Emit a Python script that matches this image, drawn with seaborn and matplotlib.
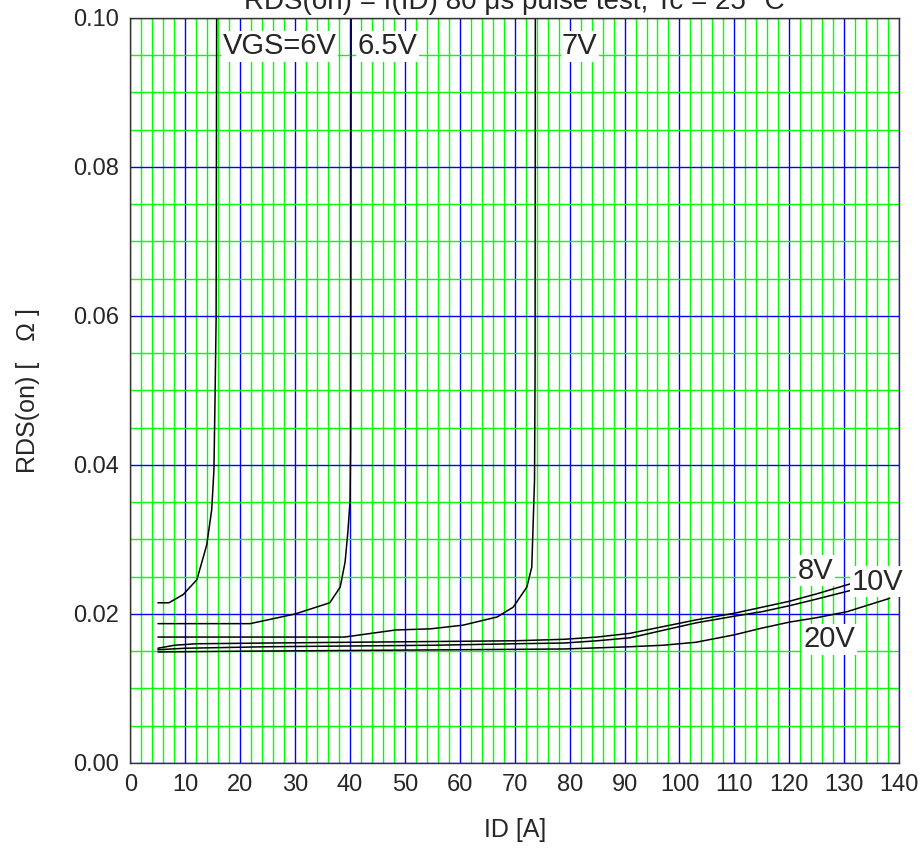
import matplotlib
matplotlib.use("Agg")
from matplotlib import pyplot as plt
from matplotlib.ticker import MultipleLocator
import pandas as pd
import seaborn as sns

# curve data: ID [A] -> RDS(on) [ohm]
id_6v = [5, 7.0, 9.6, 12.1, 13.9, 14.8, 15.2, 15.4, 15.6, 15.7]
r_6v = [0.0215, 0.0215, 0.0226, 0.0246, 0.0293, 0.034, 0.0393, 0.0487, 0.0595, 0.1]

id_65v = [5, 21.8, 30.0, 36.3, 38.2, 39.1, 39.6, 40.0, 40.1, 40.2]
r_65v = [0.0187, 0.0187, 0.0200, 0.0215, 0.0236, 0.027, 0.0310, 0.0352, 0.042, 0.1]

id_7v = [5, 39, 48.3, 54.6, 60.6, 66.8, 69.7, 72.2, 73.1, 73.6, 73.7, 73.75]
r_7v = [0.0169, 0.0169, 0.01785, 0.0180, 0.0185, 0.0196, 0.0209, 0.0236, 0.0263, 0.038, 0.0527, 0.1]

id_8v = [5, 8, 12, 25, 40, 55, 70, 79, 85, 91, 97, 103, 110, 115, 120, 125, 131.4]
r_8v = [0.0154, 0.0158, 0.0160, 0.0161, 0.0162, 0.0163, 0.0164, 0.0166, 0.0169, 0.0174,
        0.0183, 0.0192, 0.0201, 0.0209, 0.0217, 0.0227, 0.0241]

id_10v = [5, 10, 25, 40, 55, 70, 79, 85, 91, 97, 103, 110, 115, 120, 125, 131.4]
r_10v = [0.0152, 0.0154, 0.0156, 0.0157, 0.0158, 0.0160, 0.0161, 0.0164, 0.0168, 0.0178,
         0.0188, 0.0197, 0.0203, 0.0211, 0.0220, 0.0232]

id_20v = [5, 20, 40, 60, 79, 91, 97, 103, 110, 115, 120, 125, 130.5, 138.3]
r_20v = [0.0149, 0.0150, 0.0151, 0.0152, 0.0153, 0.0156, 0.0158, 0.0162, 0.0172, 0.0181,
         0.0189, 0.0195, 0.0203, 0.0221]

curve_names = ["6V", "6.5V", "7V", "8V", "10V", "20V"]
curve_ids = [id_6v, id_65v, id_7v, id_8v, id_10v, id_20v]
curve_rs = [r_6v, r_65v, r_7v, r_8v, r_10v, r_20v]

# curve labels: text, ID, RDS
label_texts = ["VGS=6V", "6.5V", "7V", "8V", "10V", "20V"]
label_x = [16.8, 41.4, 78.6, 121.5, 131.3, 122.6]
label_y = [0.0962, 0.0962, 0.0962, 0.0258, 0.0243, 0.0166]

title_text = "RDS(on) = f(ID) 80 \u03bcs pulse test, Tc = 25 \u00b0C"

rows = []
for name, xs, ys in zip(curve_names, curve_ids, curve_rs):
    for k, (x, y) in enumerate(zip(xs, ys)):
        rows.append({"vgs": name, "order": k, "ID": x, "RDS": y})
df = pd.DataFrame(rows)

sns.set_style("white")
plt.rcParams["font.family"] = ["Liberation Sans", "DejaVu Sans"]

fig = plt.figure(figsize=(9.24, 8.59), dpi=100)
ax = fig.add_axes([0.1412, 0.1118, 0.8318, 0.8673])

ax.set_xlim(0, 140)
ax.set_ylim(0, 0.1)
ax.xaxis.set_major_locator(MultipleLocator(10))
ax.xaxis.set_minor_locator(MultipleLocator(2))
ax.yaxis.set_major_locator(MultipleLocator(0.02))
ax.yaxis.set_minor_locator(MultipleLocator(0.005))
ax.grid(which="minor", color="#00ff00", linewidth=1.0)
ax.grid(which="major", color="#0000ff", linewidth=1.0)
ax.set_axisbelow(True)

for name in curve_names:
    sub = df[df["vgs"] == name]
    sns.lineplot(data=sub, x="ID", y="RDS", sort=False, estimator=None,
                 color="black", linewidth=1.1, ax=ax)

for t, x, y in zip(label_texts, label_x, label_y):
    ax.text(x, y, t, fontsize=21, va="center", ha="left", zorder=5,
            bbox=dict(facecolor="white", edgecolor="none", pad=1.0))

ax.yaxis.set_major_formatter(plt.FuncFormatter(lambda v, p: f"{v:.2f}"))
ax.tick_params(which="both", length=0, labelsize=17, pad=8)
ax.set_xlabel("ID [A]", fontsize=18, labelpad=16)
ax.set_ylabel("RDS(on) [   \u03a9 ]", fontsize=18, labelpad=24)

for s in ax.spines.values():
    s.set_color("#333333")
    s.set_linewidth(1.0)
    s.set_visible(True)

fig.text(0.557, 1 - 9 / 859, title_text, fontsize=20, ha="center", va="baseline")

fig.savefig("out.png", dpi=100)
